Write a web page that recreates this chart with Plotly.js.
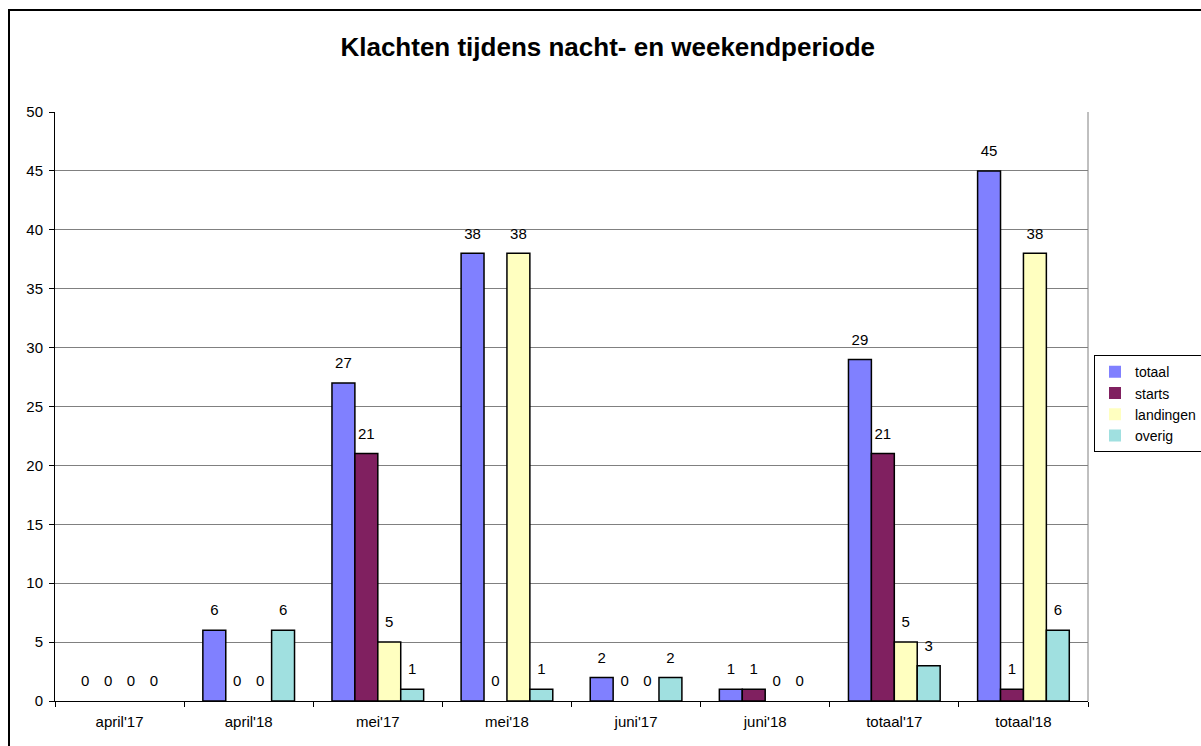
<!DOCTYPE html>
<html>
<head>
<meta charset="utf-8">
<script src="https://cdn.plot.ly/plotly-3.0.1.min.js"></script>
<style>html,body{margin:0;padding:0;background:#fff;}#chart{width:1201px;height:746px;}</style>
</head>
<body>
<div id="chart"></div>
<script>
const categories = ["april'17","april'18","mei'17","mei'18","juni'17","juni'18","totaal'17","totaal'18"];
const totaal    = [0, 6, 27, 38, 2, 1, 29, 45];
const starts    = [0, 0, 21, 0, 0, 1, 21, 1];
const landingen = [0, 0, 5, 38, 0, 0, 5, 38];
const overig    = [0, 6, 1, 1, 2, 0, 3, 6];
const seriesNames = ["totaal","starts","landingen","overig"];
const seriesColors = ["#8080FF","#802060","#FFFFC0","#A0E0E0"];
const seriesValues = [totaal, starts, landingen, overig];

const FONT = 'Liberation Sans, Arial, sans-serif';
const LABEL_LIFT = 0.75; // gap (axis units) between bar top and its value label

const barTraces = seriesValues.map((vals, i) => ({
  type: 'bar',
  name: seriesNames[i],
  x: categories,
  y: vals,
  alignmentgroup: 'A',
  offsetgroup: 'g' + i,
  marker: {color: seriesColors[i], line: {color: '#000', width: vals.map(v => v === 0 ? 0 : 1.5)}},
  hoverinfo: 'skip'
}));

const labelTraces = seriesValues.map((vals, i) => ({
  type: 'bar',
  name: seriesNames[i] + ' label',
  showlegend: false,
  x: categories,
  y: vals.map(() => LABEL_LIFT),
  base: vals,
  alignmentgroup: 'A',
  offsetgroup: 'g' + i,
  text: vals.map(String),
  textposition: 'outside',
  constraintext: 'none',
  cliponaxis: false,
  textfont: {family: FONT, size: 15, color: '#000'},
  marker: {color: 'rgba(0,0,0,0)', line: {width: 0}},
  hoverinfo: 'skip'
}));

const layout = {
  width: 1201, height: 746,
  margin: {l: 55, r: 113, t: 112, b: 45, autoexpand: false},
  paper_bgcolor: '#fff', plot_bgcolor: '#fff',
  font: {family: FONT, size: 15, color: '#000'},
  title: {text: '<b>Klachten tijdens nacht- en weekendperiode</b>', x: 0.506, xref: 'container', y: 0.937, yref: 'container', yanchor: 'middle', font: {size: 26, family: FONT}},
  barmode: 'group', bargap: 0.29, bargroupgap: 0,
  showlegend: true,
  legend: {x: (1094-55)/1033, xanchor: 'left', y: 0.587, yanchor: 'top', bordercolor: '#000', borderwidth: 1, bgcolor: '#fff', font: {size: 14}, tracegroupgap: 0, itemwidth: 30},
  xaxis: {type: 'category', showline: true, linecolor: '#000', linewidth: 1, ticks: 'outside', tickson: 'boundaries', ticklen: 5, tickcolor: '#000', showgrid: false, tickfont: {size: 15}, ticklabelstandoff: 7, fixedrange: true},
  yaxis: {range: [0, 50], dtick: 5, showline: true, linecolor: '#000', linewidth: 1, ticks: 'outside', ticklen: 5, tickcolor: '#000', showgrid: true, gridcolor: '#808080', gridwidth: 1, zeroline: false, tickfont: {size: 15}, ticklabelstandoff: 3, fixedrange: true},
  shapes: [
    {type: 'line', xref: 'paper', yref: 'paper', x0: 1, x1: 1, y0: 0, y1: 1, line: {color: '#808080', width: 1}},
    {type: 'rect', xref: 'paper', yref: 'paper', x0: (9-55)/1033, x1: 1.2, y0: -0.2, y1: (701-10)/589, line: {color: '#000', width: 2}, fillcolor: 'rgba(0,0,0,0)'}
  ]
};

Plotly.newPlot('chart', barTraces.concat(labelTraces), layout, {displayModeBar: false, staticPlot: true});
</script>
</body>
</html>
